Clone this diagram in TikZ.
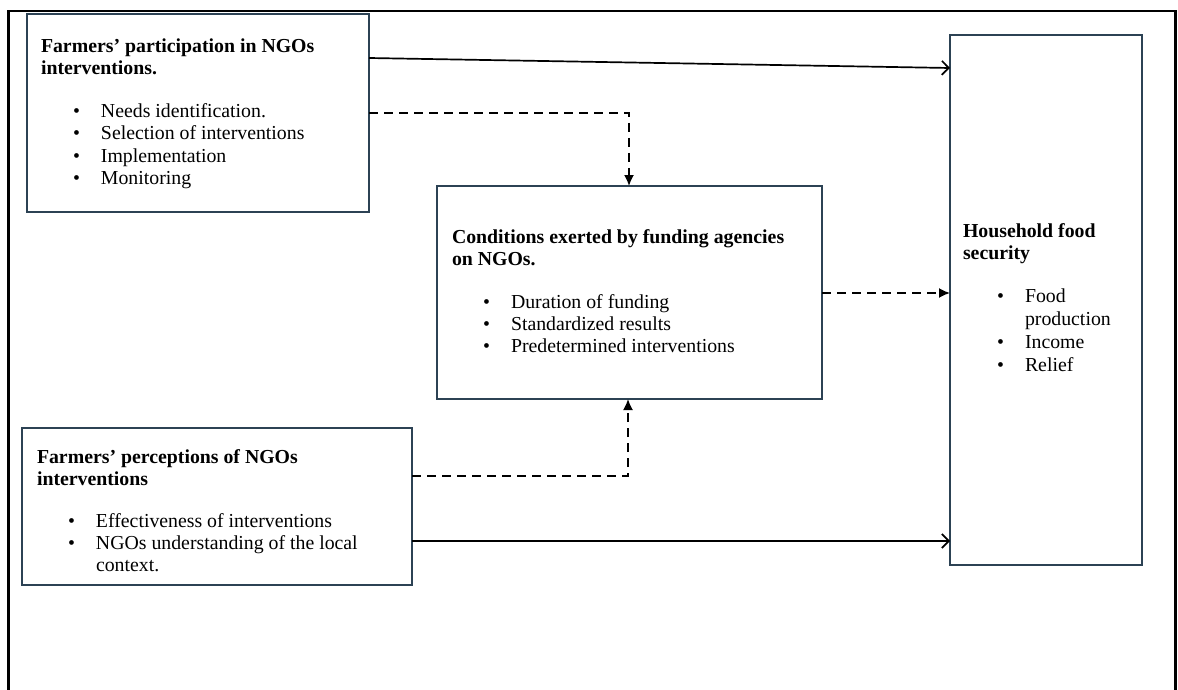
\documentclass[tikz,border=0pt]{standalone}
\usepackage{fontspec}
\setmainfont{Liberation Serif}
\usetikzlibrary{arrows.meta}
\definecolor{boxcol}{RGB}{44,66,84}
\newcommand\myitem[1]{\makebox[28pt][l]{\textbullet}#1}
\begin{document}
\begin{tikzpicture}[x=1pt,y=-1pt,
  box/.style={draw=boxcol, line width=1.4pt, rectangle, inner sep=0pt, outer sep=0pt, anchor=north west},
  txt/.style={anchor=base west, inner sep=0pt, outer sep=0pt, font=\fontsize{19.8}{22}\selectfont},
  hdr/.style={anchor=base west, inner sep=0pt, outer sep=0pt, font=\fontsize{19.8}{22}\selectfont\bfseries},
  solidarrow/.style={black, line width=1.7pt, -{Straight Barb[length=7pt,width=14pt]}},
  dasharrow/.style={black, line width=1.7pt, dash pattern=on 9pt off 6pt, -{Latex[length=11pt,width=10pt]}},
  frame/.style={black, line width=2.5pt}
]
\useasboundingbox (0,0) rectangle (1178,690);
% outer frame (open at the bottom)
\draw[frame] (8.5,692) -- (8.5,11) -- (1175.5,11) -- (1175.5,692);

% boxes
\node[box, minimum width=342pt, minimum height=198pt] (b1) at (27,14) {};
\node[box, minimum width=390pt, minimum height=157pt] (b2) at (22,428) {};
\node[box, minimum width=385pt, minimum height=213pt] (b3) at (437,186) {};
\node[box, minimum width=192pt, minimum height=530pt] (b4) at (950,35) {};

% box 1 text
\node[hdr] (t1a) at (41,53) {Farmers’ participation in NGOs};
\node[hdr] (t1b) at (41,75) {interventions.};
\node[txt] (t1c) at (73,118) {\myitem{Needs identification.}};
\node[txt] (t1d) at (73,140) {\myitem{Selection of interventions}};
\node[txt] (t1e) at (73,162) {\myitem{Implementation}};
\node[txt] (t1f) at (73,184) {\myitem{Monitoring}};

% box 2 text
\node[hdr] (t2a) at (37,463) {Farmers’ perceptions of NGOs};
\node[hdr] (t2b) at (37,485) {interventions};
\node[txt] (t2c) at (68,527) {\myitem{Effectiveness of interventions}};
\node[txt] (t2d) at (68,549) {\myitem{NGOs understanding of the local}};
\node[txt] (t2e) at (96,571) {context.};

% box 3 text
\node[hdr] (t3a) at (452,243) {Conditions exerted by funding agencies};
\node[hdr] (t3b) at (452,265) {on NGOs.};
\node[txt] (t3c) at (483,308) {\myitem{Duration of funding}};
\node[txt] (t3d) at (483,330) {\myitem{Standardized results}};
\node[txt] (t3e) at (483,352) {\myitem{Predetermined interventions}};

% box 4 text
\node[hdr] (t4a) at (963,237) {Household food};
\node[hdr] (t4b) at (963,259) {security};
\node[txt] (t4c) at (997,302) {\myitem{Food}};
\node[txt] (t4d) at (1025,325) {production};
\node[txt] (t4e) at (997,348) {\myitem{Income}};
\node[txt] (t4f) at (997,371) {\myitem{Relief}};

% connectors
\draw[solidarrow] ([yshift=-44pt]b1.north east) -- ([yshift=-33pt]b4.north west);
\draw[dasharrow] ([yshift=-99pt]b1.north east) -| ([xshift=192pt]b3.north west);
\draw[dasharrow] ([yshift=-107pt]b3.north east) -- ([yshift=-258pt]b4.north west);
\draw[dasharrow] ([yshift=-48pt]b2.north east) -| ([xshift=191pt]b3.south west);
\draw[solidarrow] ([yshift=-113pt]b2.north east) -- ([yshift=-506pt]b4.north west);
\end{tikzpicture}
\end{document}
